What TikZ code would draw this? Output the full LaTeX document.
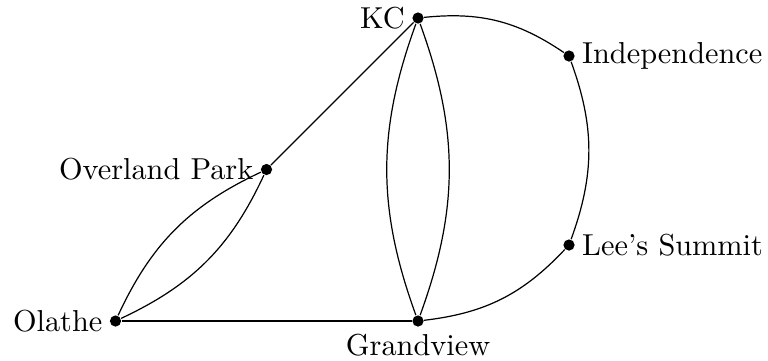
\documentclass[tikz,border=0pt]{standalone}
\begin{document}
\begin{tikzpicture}[x=0.33pt,y=-0.33pt,
  city/.style={circle,fill=black,inner sep=0pt,minimum size=3.7pt},
  every label/.style={inner sep=2.1pt},
  road/.style={line width=0.4pt}]
\useasboundingbox (0,0) rectangle (768,360);
\node[city,label=left:KC] (kc) at (418,18) {};
\node[city,label=right:Independence] (ind) at (569,56) {};
\node[city,label=left:Overland Park] (op) at (266.5,169.5) {};
\node[city,label=right:Lee's Summit] (ls) at (569,245) {};
\node[city,label=left:Olathe] (ol) at (115.5,321) {};
\node[city,label=below:Grandview] (gv) at (418,321) {};
\draw[road] (kc) -- (op);
\draw[road] (ol) to[bend left=20] (op);
\draw[road] (ol) to[bend right=20] (op);
\draw[road] (ol) -- (gv);
\draw[road] (kc) to[bend left=20] (gv);
\draw[road] (kc) to[bend right=20] (gv);
\draw[road] (kc) to[bend left=20] (ind);
\draw[road] (ind) to[bend left=20] (ls);
\draw[road] (ls) to[bend left=20] (gv);
\end{tikzpicture}
\end{document}
